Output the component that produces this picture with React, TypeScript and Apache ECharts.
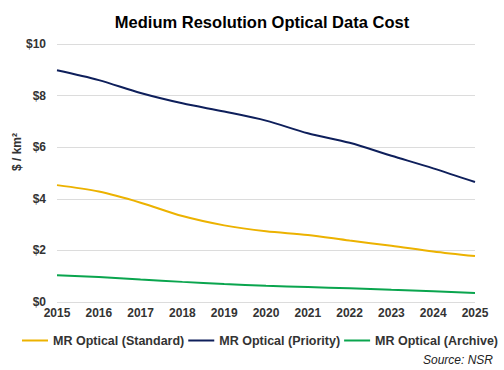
import React, { useEffect, useRef } from "react";
import * as echarts from "echarts";

const years = ["2015", "2016", "2017", "2018", "2019", "2020", "2021", "2022", "2023", "2024", "2025"];
const standard = [4.53, 4.28, 3.85, 3.33, 2.97, 2.74, 2.6, 2.38, 2.18, 1.96, 1.78];
const priority = [8.98, 8.6, 8.1, 7.7, 7.38, 7.03, 6.54, 6.17, 5.67, 5.18, 4.65];
const archive = [1.04, 0.97, 0.87, 0.78, 0.7, 0.63, 0.58, 0.53, 0.47, 0.42, 0.35];
const seriesNames = ["MR Optical (Standard)", "MR Optical (Priority)", "MR Optical (Archive)"];
const colors = ["#ECB200", "#0E1F5B", "#0AA54E"];

const font = "Liberation Sans, Arial, sans-serif";

export default function App() {
  const ref = useRef<HTMLDivElement>(null);
  useEffect(() => {
    if (!ref.current) return;
    const chart = echarts.init(ref.current, null, { renderer: "svg" });
    const data = [standard, priority, archive];
    chart.setOption({
      animation: false,
      backgroundColor: "#ffffff",
      title: {
        text: "Medium Resolution Optical Data Cost",
        left: 257,
        textAlign: "center",
        top: 8,
        textStyle: { fontFamily: font, fontSize: 16.5, fontWeight: "bold", color: "#000" },
      },
      grid: { left: 57, right: 29, top: 44, bottom: 68, containLabel: false },
      legend: {
        left: 22,
        top: 334,
        width: 500,
        padding: 0,
        itemWidth: 26,
        itemHeight: 2,
        itemGap: 4,
        icon: "rect",
        textStyle: { fontFamily: font, fontSize: 12.5, fontWeight: "bold", color: "#333" },
        data: seriesNames,
      },
      xAxis: {
        type: "category",
        data: years,
        boundaryGap: false,
        axisLine: { show: false },
        axisTick: { show: false },
        axisLabel: { fontFamily: font, fontSize: 12, fontWeight: "bold", color: "#333", margin: 5 },
      },
      yAxis: {
        type: "value",
        min: 0,
        max: 10,
        interval: 2,
        axisLine: { show: false },
        axisTick: { show: false },
        splitLine: { lineStyle: { color: "#dcdcdc", width: 1 } },
        axisLabel: {
          fontFamily: font,
          fontSize: 12,
          fontWeight: "bold",
          color: "#333",
          margin: 11,
          formatter: (v: number) => "$" + v,
        },
      },
      graphic: [
        {
          type: "text",
          x: 17,
          y: 152,
          rotation: Math.PI / 2,
          style: {
            text: "$ / km²",
            fontFamily: font,
            fontSize: 12,
            fontWeight: "bold",
            fill: "#333",
            textAlign: "center",
            textVerticalAlign: "middle",
          },
        },
        {
          type: "text",
          right: 11,
          top: 354,
          style: {
            text: "Source: NSR",
            fontFamily: font,
            fontSize: 12,
            fontStyle: "italic",
            fill: "#222",
          },
        },
      ],
      series: seriesNames.map((n, i) => ({
        name: n,
        type: "line",
        data: data[i],
        smooth: 0.3,
        showSymbol: false,
        symbol: "none",
        lineStyle: { color: colors[i], width: 2 },
        itemStyle: { color: colors[i] },
      })),
    });
    return () => chart.dispose();
  }, []);
  return <div ref={ref} style={{ width: 504, height: 370, position: "absolute", left: 0, top: 0 }} />;
}
